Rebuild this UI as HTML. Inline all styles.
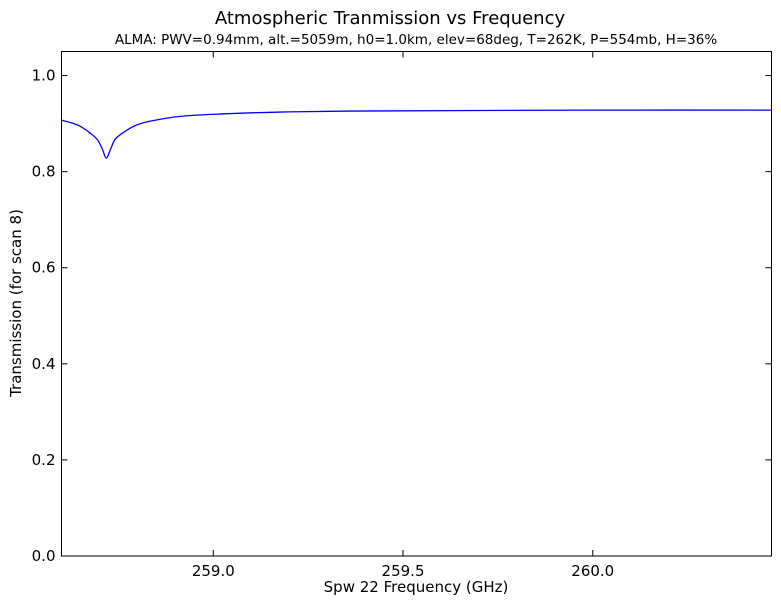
<!DOCTYPE html>
<html><head><meta charset="utf-8"><style>
body{margin:0;background:#fff;}
svg text{font-family:"DejaVu Sans","Liberation Sans",sans-serif;}
</style></head><body>
<svg id="chart" width="781" height="605" xmlns="http://www.w3.org/2000/svg">
<rect width="781" height="605" fill="#fff"/>
<text x="390" y="24" font-size="18" text-anchor="middle">Atmospheric Tranmission vs Frequency</text>
<text x="416" y="44" font-size="13.5" text-anchor="middle">ALMA: PWV=0.94mm, alt.=5059m, h0=1.0km, elev=68deg, T=262K, P=554mb, H=36%</text>
<g id="ticks"></g>
<path id="line" fill="none" stroke="#0000ff" stroke-width="1.3"/>
<rect x="61.5" y="51.5" width="710" height="504.5" fill="none" stroke="#000" stroke-width="1"/>
<text x="416" y="592" font-size="15" text-anchor="middle">Spw 22 Frequency (GHz)</text>
<text transform="translate(21,303) rotate(-90)" font-size="15" text-anchor="middle">Transmission (for scan 8)</text>
</svg>
<script>
const freqs=[258.600,258.624,258.650,258.676,258.695,258.708,258.718,258.729,258.742,258.768,258.795,258.834,258.913,259.021,259.176,259.361,259.624,260.018,260.471];
const trans=[0.907,0.902,0.894,0.880,0.866,0.846,0.828,0.846,0.868,0.884,0.896,0.905,0.915,0.920,0.924,0.926,0.927,0.928,0.928];
const xTicks=[259.0,259.5,260.0];
const yTicks=[0.0,0.2,0.4,0.6,0.8,1.0];
const xMin=258.600,xMax=260.471,yMin=0,yMax=1.05;
const L=61.5,R=771.5,T=51.5,B=556;
const sx=v=>L+(v-xMin)/(xMax-xMin)*(R-L);
const sy=v=>B-(v-yMin)/(yMax-yMin)*(B-T);
const NS='http://www.w3.org/2000/svg';
const g=document.getElementById('ticks');
function mk(tag,attrs){const e=document.createElementNS(NS,tag);for(const k in attrs)e.setAttribute(k,attrs[k]);g.appendChild(e);return e;}
xTicks.forEach(v=>{
  const x=sx(v);
  const t1=mk('line',{x1:x,x2:x,y1:B,y2:B-6,stroke:'#000'});
  
  
  const t2=mk('line',{x1:x,x2:x,y1:T,y2:T+6,stroke:'#000'});
  
  
  const l=mk('text',{x:x,y:B+20,'font-size':15,'text-anchor':'middle'});
  l.textContent=v.toFixed(1);
  
  
});
yTicks.forEach(v=>{
  const y=sy(v);
  const t1=mk('line',{x1:L,x2:L+6,y1:y,y2:y,stroke:'#000'});
  
  
  const t2=mk('line',{x1:R,x2:R-6,y1:y,y2:y,stroke:'#000'});
  
  
  const l=mk('text',{x:L-6,y:y+5,'font-size':15,'text-anchor':'end'});
  l.textContent=v.toFixed(1);
  
  
});
const pts=freqs.map((f,i)=>[sx(f),sy(trans[i])]);
let d='M'+pts[0][0].toFixed(2)+','+pts[0][1].toFixed(2);
for(let i=0;i<pts.length-1;i++){
  const p0=pts[Math.max(0,i-1)],p1=pts[i],p2=pts[i+1],p3=pts[Math.min(pts.length-1,i+2)];
  const c1=[p1[0]+(p2[0]-p0[0])/6,p1[1]+(p2[1]-p0[1])/6];
  const c2=[p2[0]-(p3[0]-p1[0])/6,p2[1]-(p3[1]-p1[1])/6];
  d+='C'+c1.map(n=>n.toFixed(2)).join(',')+' '+c2.map(n=>n.toFixed(2)).join(',')+' '+p2.map(n=>n.toFixed(2)).join(',');
}
document.getElementById('line').setAttribute('d',d);
</script>
</body></html>
